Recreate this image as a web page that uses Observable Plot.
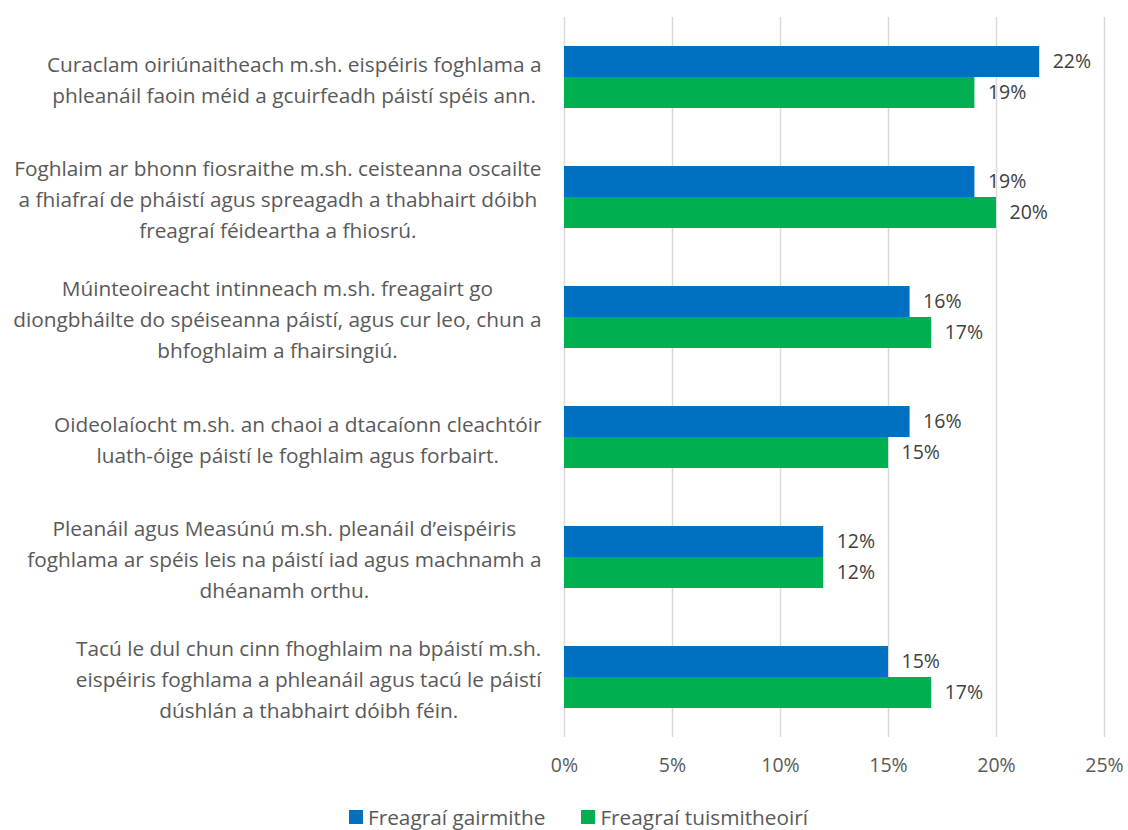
<!DOCTYPE html>
<html>
<head>
<meta charset="utf-8">
<script src="https://cdn.jsdelivr.net/npm/d3@7"></script>
<script src="https://cdn.jsdelivr.net/npm/@observablehq/plot@0.6"></script>
<style>
  html, body { margin: 0; padding: 0; background: #fff; }
  #chart { width: 1128px; }
  .legend { display: flex; justify-content: center; gap: 36px; font-family: "Open Sans", sans-serif; font-size: 20.8px; line-height: 26px; color: #595959; margin-left: 29px; margin-top: 14px; }
  .legend span.item { display: flex; align-items: center; gap: 5px; }
  .legend i { display: inline-block; width: 14px; height: 14px; }
</style>
</head>
<body>
<div id="chart"></div>
<script>
const categoryLines = [
  ["Curaclam oiriúnaitheach m.sh. eispéiris foghlama a", "phleanáil faoin méid a gcuirfeadh páistí spéis ann."],
  ["Foghlaim ar bhonn fiosraithe m.sh. ceisteanna oscailte", "a fhiafraí de pháistí agus spreagadh a thabhairt dóibh", "freagraí féideartha a fhiosrú."],
  ["Múinteoireacht intinneach m.sh. freagairt go", "diongbháilte do spéiseanna páistí, agus cur leo, chun a", "bhfoghlaim a fhairsingiú."],
  ["Oideolaíocht m.sh. an chaoi a dtacaíonn cleachtóir", "luath-óige páistí le foghlaim agus forbairt."],
  ["Pleanáil agus Measúnú m.sh. pleanáil d’eispéiris", "foghlama ar spéis leis na páistí iad agus machnamh a", "dhéanamh orthu."],
  ["Tacú le dul chun cinn fhoghlaim na bpáistí m.sh.", "eispéiris foghlama a phleanáil agus tacú le páistí", "dúshlán a thabhairt dóibh féin."]
];
const categories = categoryLines.map(l => l.join(" "));
const seriesNames = ["Freagraí gairmithe", "Freagraí tuismitheoirí"];
const gairmithe = [22, 19, 16, 16, 12, 15];
const tuismitheoiri = [19, 20, 17, 15, 12, 17];
const xTicks = [0, 5, 10, 15, 20, 25];
const colors = ["#0070C0", "#00B050"];

const W = 1128, H = 790;
const marginLeft = 564, marginRight = 24, marginTop = 17, marginBottom = 53;
const fontFamily = "'Open Sans', sans-serif";
const labelSize = 20.8;
const numSize = 19.5;
const pxPerUnit = (W - marginLeft - marginRight) / 25;

// measure label block widths to center lines within a right-aligned block
const ctx = document.createElement("canvas").getContext("2d");
ctx.font = `${labelSize}px ${fontFamily}`;
const labelRight = 541;
const labelData = categoryLines.map((lines, i) => {
  const w = Math.max(...lines.map(s => ctx.measureText(s).width));
  const centerPx = labelRight - w / 2;
  return {cat: categories[i], text: lines.join("\n"), x: (centerPx - marginLeft) / pxPerUnit};
});

const dataA = categories.map((c, i) => ({cat: c, value: gairmithe[i]}));
const dataB = categories.map((c, i) => ({cat: c, value: tuismitheoiri[i]}));

const plot = Plot.plot({
  width: W, height: H,
  marginLeft, marginRight, marginTop, marginBottom,
  style: {fontFamily, background: "#fff"},
  x: {domain: [0, 25], ticks: xTicks, tickFormat: d => d + "%"},
  y: {domain: categories, paddingInner: 0.483, paddingOuter: 0.2415, axis: null},
  marks: [
    Plot.gridX(xTicks, {stroke: "#d9d9d9", strokeOpacity: 1, strokeWidth: 1.5}),
    Plot.axisX(xTicks, {tickSize: 0, tickPadding: 21, fontSize: numSize, fill: "#595959", label: null, tickFormat: d => d + "%"}),
    Plot.barX(dataA, {y: "cat", x: "value", fill: colors[0], insetBottom: 31}),
    Plot.barX(dataB, {y: "cat", x: "value", fill: colors[1], insetTop: 31}),
    Plot.text(dataA, {y: "cat", x: "value", text: d => d.value + "%", dx: 13, dy: -15.5, textAnchor: "start", fontSize: numSize, fill: "#404040"}),
    Plot.text(dataB, {y: "cat", x: "value", text: d => d.value + "%", dx: 13, dy: 15.5, textAnchor: "start", fontSize: numSize, fill: "#404040"}),
    Plot.text(labelData, {y: "cat", x: "x", text: "text", textAnchor: "middle", lineHeight: 31 / labelSize, fontSize: labelSize, fill: "#595959"})
  ]
});
document.getElementById("chart").appendChild(plot);

const legend = document.createElement("div");
legend.className = "legend";
seriesNames.forEach((name, i) => {
  const item = document.createElement("span");
  item.className = "item";
  const sw = document.createElement("i");
  sw.style.background = colors[i];
  item.appendChild(sw);
  item.appendChild(document.createTextNode(name));
  legend.appendChild(item);
});
document.getElementById("chart").appendChild(legend);
</script>
</body>
</html>
